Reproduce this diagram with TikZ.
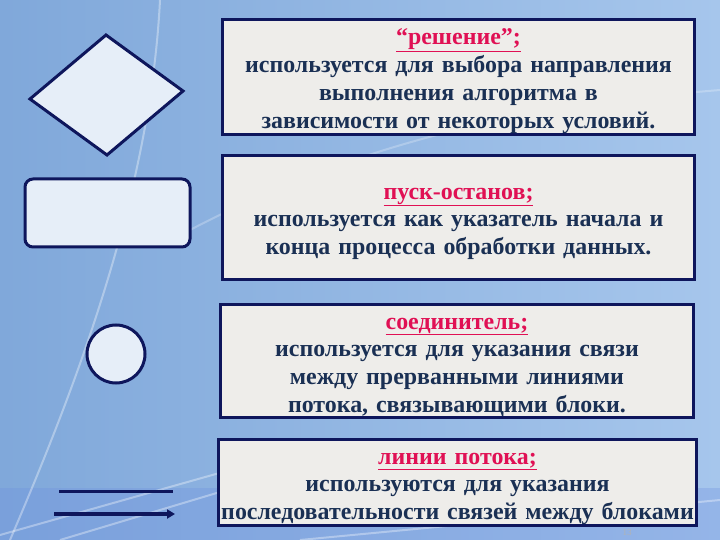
\documentclass[tikz,border=0pt]{standalone}
\usepackage{fontspec}
\setmainfont{Liberation Serif}
\newfontfamily\timesbold{Liberation Serif Bold}
\usetikzlibrary{arrows.meta}

\definecolor{navy}{RGB}{14,22,92}
\definecolor{bodyblue}{RGB}{26,48,84}
\definecolor{titlered}{RGB}{224,16,84}
\definecolor{paper}{RGB}{238,237,234}
\definecolor{iceblue}{RGB}{230,238,248}
\definecolor{bgleft}{RGB}{128,168,218}
\definecolor{bgright}{RGB}{166,198,236}

\tikzset{
  infobox/.style={draw=navy, line width=3bp, fill=paper, align=center,
    text=bodyblue, font=\timesbold\fontsize{24}{28}\selectfont, inner sep=1bp},
  symbol/.style={draw=navy, line width=3bp, fill=iceblue},
  streak/.style={white, opacity=0.35, line width=2bp}
}
\newcommand{\boxtitle}[1]{\rule{0pt}{24bp}\textcolor{titlered}{\underline{#1}}}

\begin{document}
\begin{tikzpicture}[x=1bp, y=-1bp]
    % Background
    \shade[left color=bgleft, right color=bgright] (0,0) rectangle (720,540);
    \fill[bgleft!85!blue, opacity=0.3] (0,488) rectangle (720,540);
    \useasboundingbox (0,0) rectangle (720,540);
    \draw[streak] (0,535) -- (230,470);
    \draw[streak] (60,540) -- (260,480);
    \draw[streak] (300,540) -- (720,500);
    \draw[streak] (160,0) .. controls (150,200) and (70,400) .. (10,540);
    \draw[streak, opacity=0.25] (190,230) .. controls (400,120) and (600,100) .. (720,90);

    % Decision symbol
    \filldraw[symbol] (106,35) -- (183,91) -- (107,155) -- (30,99) -- cycle;
    % Start-stop symbol
    \filldraw[symbol, rounded corners=8bp] (25,179) rectangle (190,247);
    % Connector symbol
    \filldraw[symbol] (116,354) circle (29);
    % Flow lines
    \coordinate (lineA) at (59,491);
    \coordinate (lineB) at (173,491);
    \coordinate (arrowA) at (54,514);
    \coordinate (arrowB) at (175,514);
    \draw[navy, line width=3bp] (lineA) -- (lineB);
    \draw[navy, line width=4bp, -{Triangle[length=8bp, width=9bp]}] (arrowA) -- (arrowB);

    % Descriptions
    \node[infobox, minimum width=473, minimum height=114, text width=470] (decision) at (458.5,77)
        {\boxtitle{“решение”;}\\ используется для выбора направления\\ выполнения алгоритма в\\ зависимости от некоторых условий.};
    \node[infobox, minimum width=473, minimum height=125, text width=470] (startstop) at (458.5,217.5)
        {\boxtitle{пуск-останов;}\\ используется как указатель начала и\\ конца процесса обработки данных.};
    \node[infobox, minimum width=474, minimum height=114, text width=470] (connector) at (457,361)
        {\boxtitle{соединитель;}\\ используется для указания связи\\ между прерванными линиями\\ потока, связывающими блоки.};
    \node[infobox, minimum width=479, minimum height=85, text width=477] (flowlines) at (457.5,482.5)
        {\boxtitle{линии потока;}\\ используются для указания\\ последовательности связей между блоками};
    \node[text=gray!60!white, font=\fontsize{9}{10}\selectfont, inner sep=0pt] (pagenum) at (627,533) {13};
\end{tikzpicture}
\end{document}
